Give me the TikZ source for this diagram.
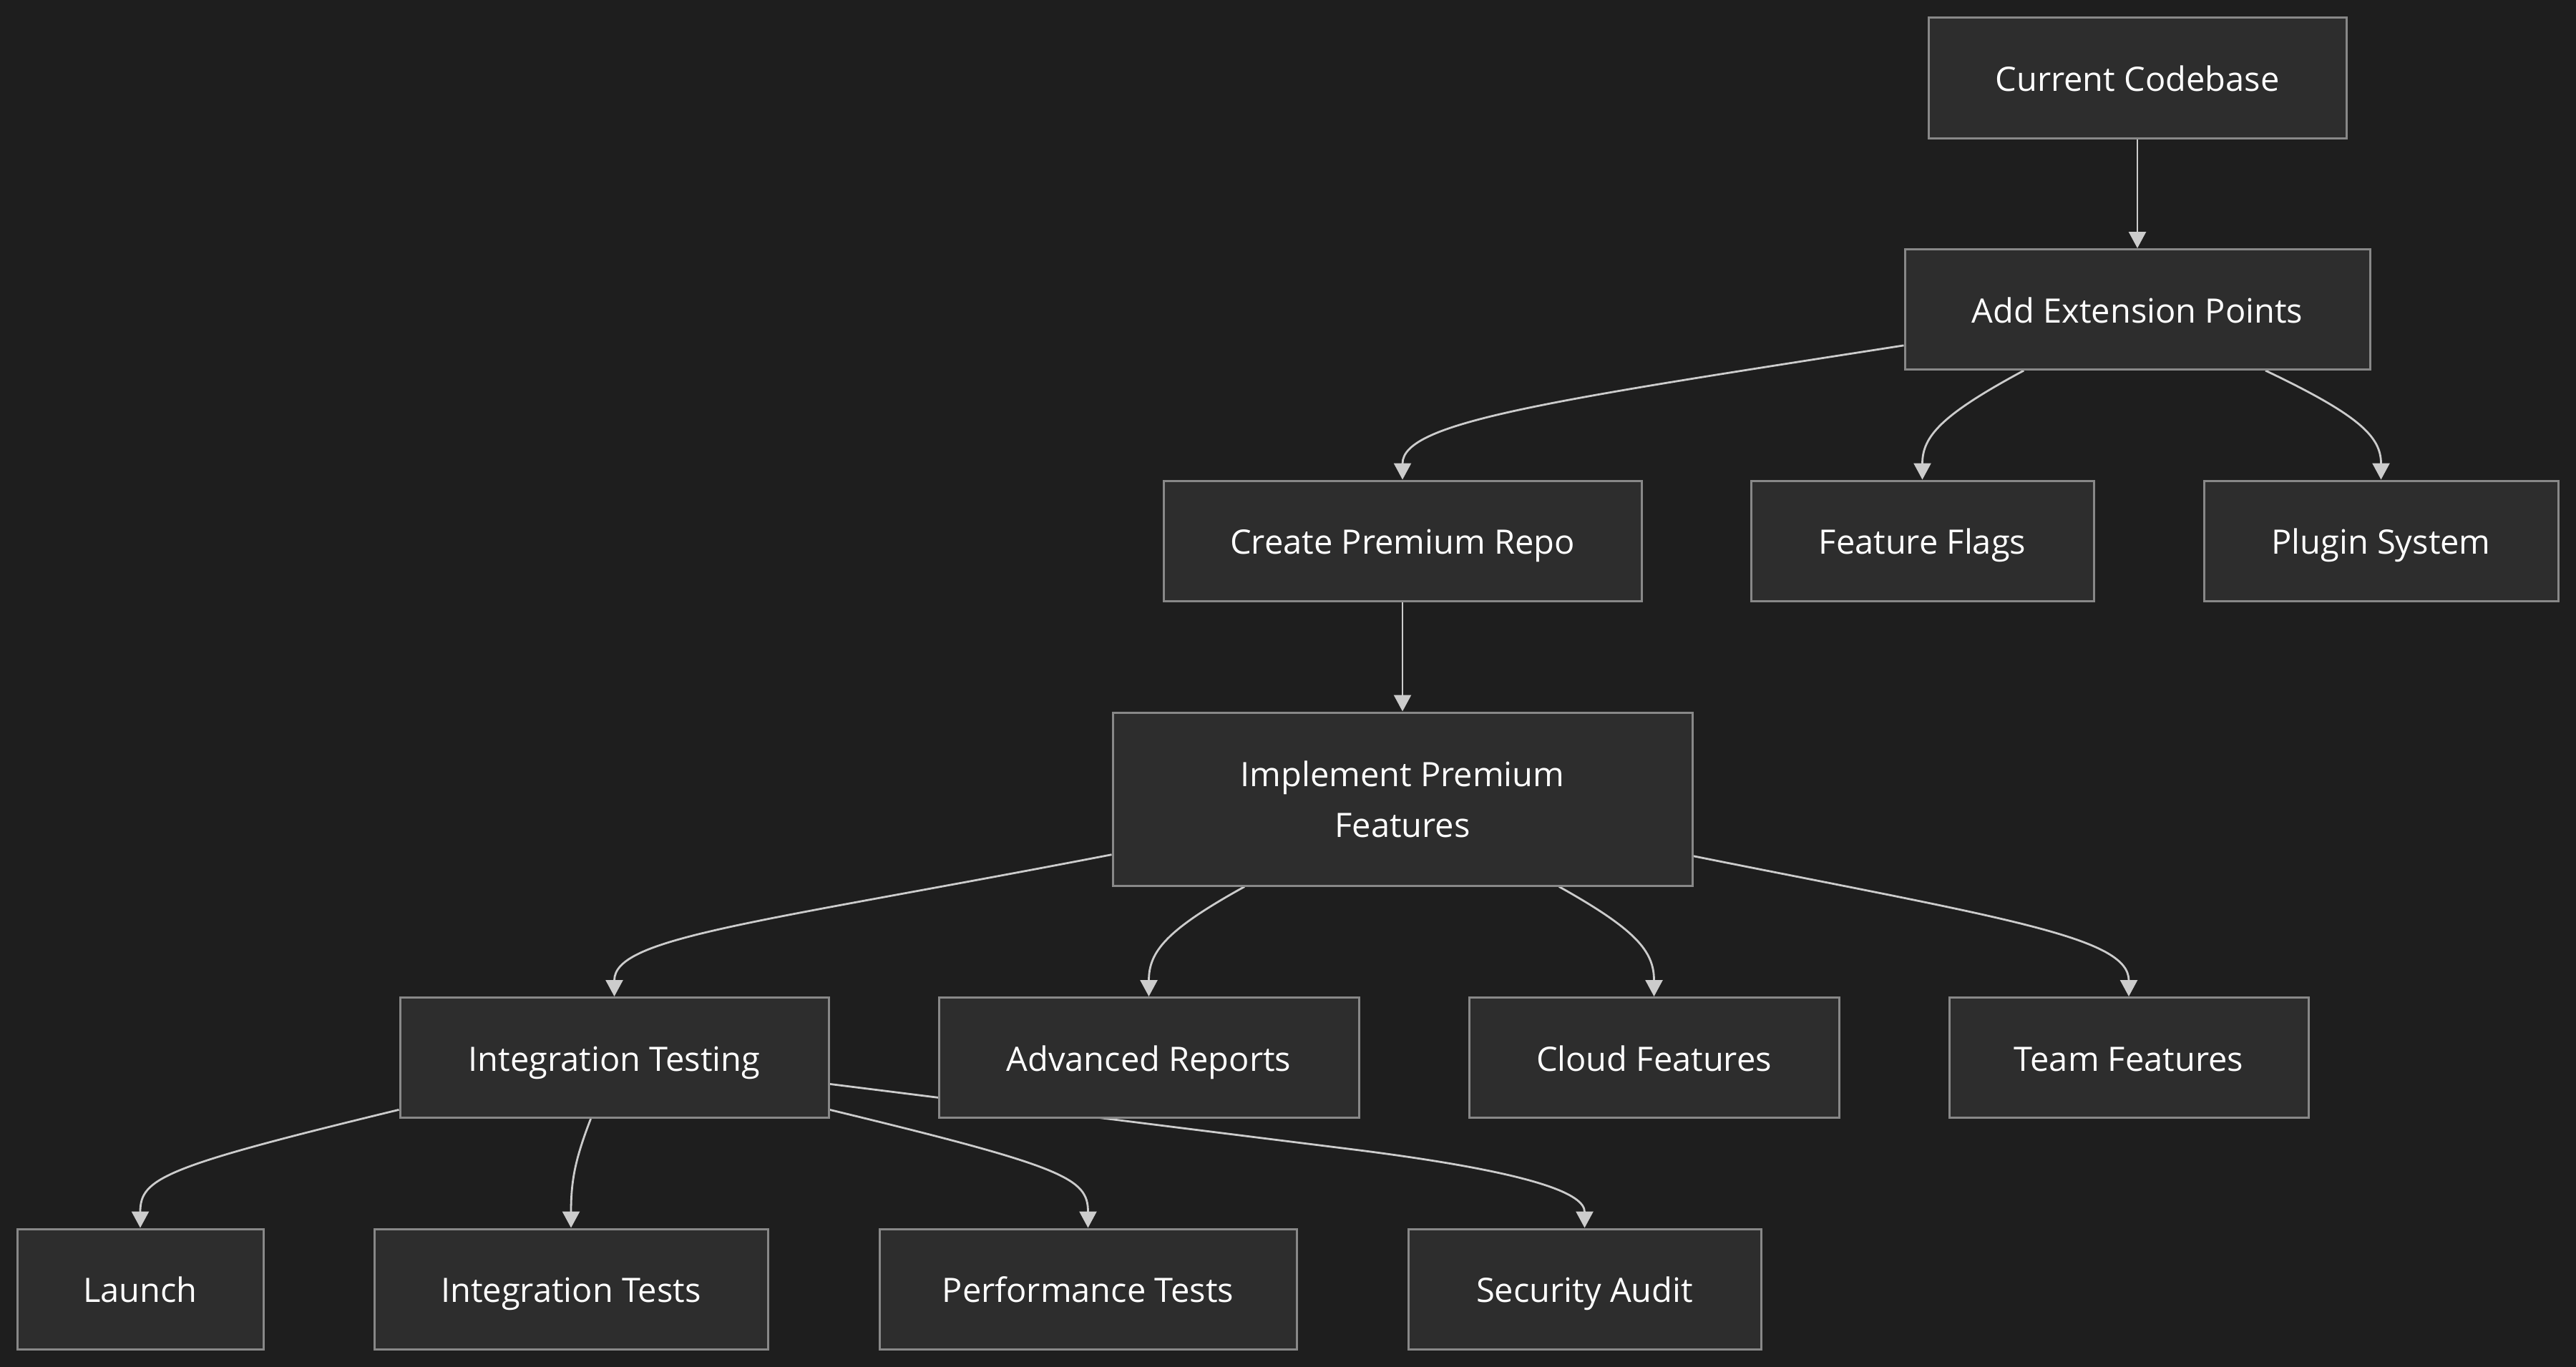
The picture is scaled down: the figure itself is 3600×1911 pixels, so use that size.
\documentclass[tikz,border=0pt]{standalone}
\usepackage{fontspec}
\setmainfont{Open Sans}
\usetikzlibrary{arrows.meta}
\definecolor{bgcol}{HTML}{1E1E1E}
\definecolor{boxfill}{HTML}{2D2D2D}
\definecolor{boxline}{HTML}{888888}
\definecolor{linkcol}{HTML}{CCCCCC}
\pgfdeclarelayer{back}
\pgfdeclarelayer{links}
\pgfsetlayers{back,links,main}
\begin{document}
\begin{tikzpicture}[x=1pt,y=-1pt,
  basebox/.style={draw=boxline, fill=boxfill, line width=3pt, text=white,
    font=\fontsize{47}{71}\selectfont, inner sep=0pt, minimum height=168pt},
  box/.style={basebox, text height=37pt, text depth=0pt},
  twoline/.style={basebox, align=center},
  conn/.style={draw=linkcol, line width=2.8pt,
    -{Triangle[width=24pt,length=23pt]}}]
\begin{pgfonlayer}{back}
\fill[bgcol] (0,0) rectangle (3600,1911);
\end{pgfonlayer}
\useasboundingbox (0,0) rectangle (3600,1911);

% nodes
\node[box, minimum width=584pt] (CC)  at (2987,109)   {Current Codebase};
\node[box, minimum width=650pt] (AEP) at (2987,432.5) {Add Extension Points};
\node[box, minimum width=668pt] (CPR) at (1960,756)   {Create Premium Repo};
\node[box, minimum width=479pt] (FF)  at (2686.5,756) {Feature Flags};
\node[box, minimum width=495pt] (PS)  at (3327.5,756) {Plugin System};
\node[twoline, minimum width=810pt, minimum height=242pt] (IPF) at (1960,1117) {Implement Premium\\Features};
\node[box, minimum width=599pt] (IT)  at (858.5,1478.5)  {Integration Testing};
\node[box, minimum width=587pt] (AR)  at (1605.5,1478.5) {Advanced Reports};
\node[box, minimum width=517pt] (CF)  at (2311.5,1478.5) {Cloud Features};
\node[box, minimum width=502pt] (TF)  at (2975,1478.5)   {Team Features};
\node[box, minimum width=344pt] (LA)  at (196,1802)    {Launch};
\node[box, minimum width=550pt] (ITS) at (798,1802)    {Integration Tests};
\node[box, minimum width=583pt] (PT)  at (1520.5,1802) {Performance Tests};
\node[box, minimum width=493pt] (SA)  at (2214.5,1802) {Security Audit};

% connectors
\begin{pgfonlayer}{links}
\draw[conn] (CC) -- (AEP);
\draw[conn] (AEP) .. controls (2163,560.5) and (1960,590) .. (CPR);
\draw[conn] (AEP) .. controls (2713,580) and (2686.5,610) .. (FF);
\draw[conn] (AEP) .. controls (3296,580) and (3327.5,610) .. (PS);
\draw[conn] (CPR) -- (IPF);
\draw[conn] (IPF) .. controls (1054,1291) and (858.5,1310) .. (IT);
\draw[conn] (IPF) .. controls (1630,1300) and (1605.5,1330) .. (AR);
\draw[conn] (IPF) .. controls (2287,1300) and (2311.5,1330) .. (CF);
\draw[conn] (IPF) .. controls (2803,1284) and (2975,1310) .. (TF);
\draw[conn] (IT) .. controls (229,1631) and (196,1647) .. (LA);
\draw[conn] (IT) .. controls (804,1620) and (798,1650) .. (ITS);
\draw[conn] (IT) .. controls (1488,1631) and (1520.5,1647) .. (PT);
\draw[conn] (IT) -- (1900,1608) .. controls (2150,1640) and (2214.5,1670) .. (SA);
\end{pgfonlayer}
\end{tikzpicture}
\end{document}
